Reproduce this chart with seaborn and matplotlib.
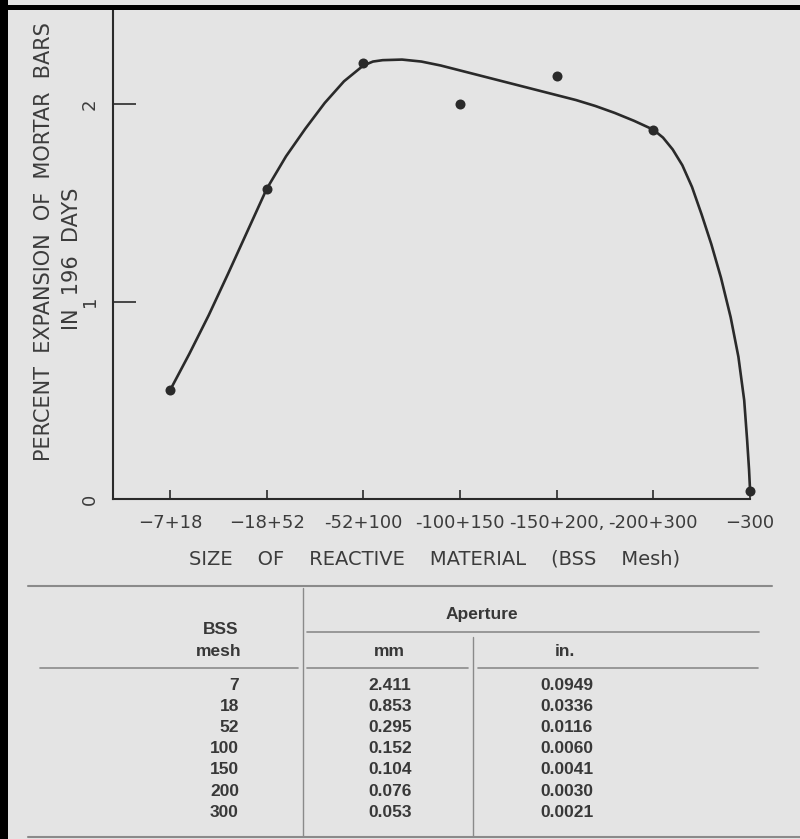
import numpy as np
import pandas as pd
import matplotlib
matplotlib.use("Agg")
import matplotlib.pyplot as plt
from matplotlib.lines import Line2D
from matplotlib.patches import Rectangle
import seaborn as sns

# ---------------- data ----------------
size_labels = ["\u22127+18", "\u221218+52", "-52+100", "-100+150",
               "-150+200,", "-200+300", "\u2212300"]
expansion = [0.55, 1.57, 2.21, 2.00, 2.14, 1.87, 0.04]

# hand-drawn smooth curve (x in category positions)
curve_x = [0.00, 0.20, 0.40, 0.60, 0.80, 1.00, 1.20, 1.40, 1.60, 1.80,
           2.00, 2.10, 2.20, 2.40, 2.60, 2.80, 3.00, 3.20, 3.40, 3.60,
           3.80, 4.00, 4.20, 4.40, 4.60, 4.80, 5.00, 5.10, 5.20, 5.30,
           5.40, 5.50, 5.60, 5.70, 5.80, 5.88, 5.94, 5.97, 5.99, 6.00]
curve_y = [0.55, 0.735, 0.93, 1.14, 1.355, 1.57, 1.735, 1.875, 2.005, 2.115,
           2.195, 2.215, 2.222, 2.225, 2.215, 2.195, 2.17, 2.145, 2.12, 2.095,
           2.07, 2.045, 2.02, 1.99, 1.955, 1.915, 1.87, 1.83, 1.77, 1.69,
           1.58, 1.44, 1.29, 1.12, 0.92, 0.72, 0.50, 0.30, 0.15, 0.05]
y_ticks = [0, 1, 2]

mesh = ["7", "18", "52", "100", "150", "200", "300"]
aperture_mm = ["2.411", "0.853", "0.295", "0.152", "0.104", "0.076", "0.053"]
aperture_in = ["0.0949", "0.0336", "0.0116", "0.0060", "0.0041", "0.0030", "0.0021"]

# ---------------- style ----------------
W, H = 800, 839
BG = "#e4e4e4"
INK = "#2a2a2a"
TXT = "#3c3c3c"
TAB = "#383838"
RULE = "#8a8a8a"

sns.set_theme(style="white")
plt.rcParams["font.family"] = ["DejaVu Sans"]


def fx(px):
    return px / W


def fy(py):
    return 1 - py / H


fig = plt.figure(figsize=(W / 100, H / 100), dpi=100, facecolor=BG)
ax = fig.add_axes([fx(113), fy(499), fx(750) - fx(113), fy(10) - fy(499)])
ax.set_facecolor(BG)

pos = np.arange(len(size_labels))
curve_df = pd.DataFrame({"x": curve_x, "y": curve_y})
sns.lineplot(data=curve_df, x="x", y="y", sort=False, estimator=None,
             ax=ax, color=INK, linewidth=1.9)
pts = pd.DataFrame({"x": pos, "y": expansion})
sns.scatterplot(data=pts, x="x", y="y", ax=ax, color=INK, s=52,
                linewidth=0, zorder=3, clip_on=False)
for ln in ax.lines:
    ln.set_clip_on(False)
    ln.set_solid_joinstyle("round")

ax.set_xlim(-0.5897, 6.0)
ax.set_ylim(0, 2.476)
ax.set_xlabel("")
ax.set_ylabel("")

ax.set_xticks(pos)
ax.set_xticklabels(size_labels, fontsize=13, color=TXT)
ax.set_yticks(y_ticks)
ax.set_yticklabels([str(v) for v in y_ticks], rotation=90, va="center",
                   fontsize=13, color=TXT)
ax.tick_params(axis="x", direction="in", length=6.5, width=1.2, pad=11,
               color=INK, bottom=True)
ax.tick_params(axis="y", direction="in", length=16.5, width=1.2, pad=10,
               color=INK, left=True)
for s in ("top", "right"):
    ax.spines[s].set_visible(False)
for s in ("left", "bottom"):
    ax.spines[s].set_color(INK)
    ax.spines[s].set_linewidth(1.5)

fig.text(fx(44), fy(242), "PERCENT  EXPANSION  OF  MORTAR  BARS",
         rotation=90, ha="center", va="center", fontsize=15, color=TXT)
fig.text(fx(72), fy(259), "IN  196  DAYS",
         rotation=90, ha="center", va="center", fontsize=15, color=TXT)
fig.text(fx(435), fy(559), "SIZE    OF    REACTIVE    MATERIAL    (BSS    Mesh)",
         ha="center", va="center", fontsize=14, color=TXT)

# ---------------- table ----------------
def rule(x1, x2, y1, y2, lw=1.2, color=RULE):
    fig.add_artist(Line2D([fx(x1), fx(x2)], [fy(y1), fy(y2)],
                          transform=fig.transFigure, color=color, lw=lw))

rule(28, 772, 586, 586, lw=1.5)
rule(303, 303, 588, 836, lw=1.0)
rule(307, 759, 632, 632, lw=1.2)
rule(473, 473, 637, 836, lw=1.0)
rule(40, 298, 668, 668)
rule(307, 468, 668, 668)
rule(478, 758, 668, 668)
rule(28, 800, 837, 837, lw=1.5)

tfont = dict(fontsize=12.5, color=TAB, family=["Liberation Sans", "DejaVu Sans"],
             fontweight="bold", va="center")
fig.text(fx(482), fy(614), "Aperture", ha="center", **tfont)
fig.text(fx(221), fy(630), "BSS", ha="center", **tfont)
fig.text(fx(219), fy(651), "mesh", ha="center", **tfont)
fig.text(fx(389), fy(651), "mm", ha="center", **tfont)
fig.text(fx(565), fy(651), "in.", ha="center", **tfont)
for i, (m, a_mm, a_in) in enumerate(zip(mesh, aperture_mm, aperture_in)):
    yy = 685 + 21.2 * i
    fig.text(fx(239), fy(yy), m, ha="right", **tfont)
    fig.text(fx(368), fy(yy), a_mm, ha="left", **tfont)
    fig.text(fx(540), fy(yy), a_in, ha="left", **tfont)

# scan frame edges
fig.add_artist(Rectangle((0, fy(10)), 1, fy(5) - fy(10), transform=fig.transFigure,
                         facecolor="black", edgecolor="none"))
fig.add_artist(Rectangle((0, 0), fx(8), 1, transform=fig.transFigure,
                         facecolor="black", edgecolor="none"))

fig.savefig("out.png", dpi=100, facecolor=BG)
